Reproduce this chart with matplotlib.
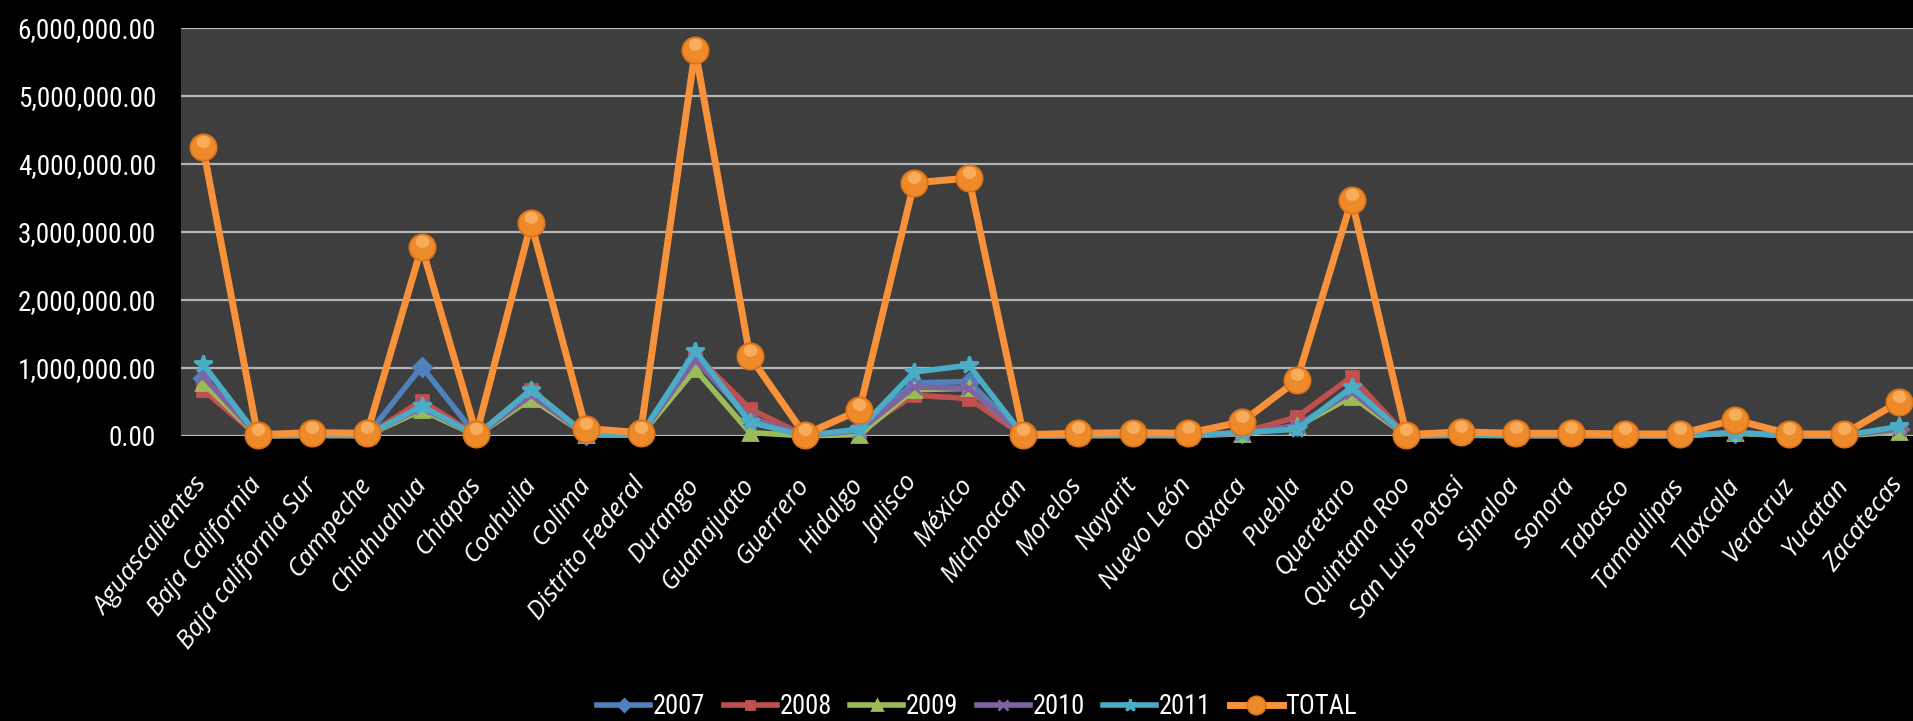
import matplotlib
matplotlib.use("Agg")
import numpy as np
import matplotlib.pyplot as plt
from matplotlib.ticker import FuncFormatter, MultipleLocator
from matplotlib import font_manager as fm
from matplotlib.font_manager import FontProperties
from matplotlib.textpath import TextPath
from matplotlib.path import Path

states = ["Aguascalientes", "Baja California", "Baja california Sur", "Campeche",
          "Chiahuahua", "Chiapas", "Coahuila", "Colima", "Distrito Federal", "Durango",
          "Guanajuato", "Guerrero", "Hidalgo", "Jalisco", "México", "Michoacan",
          "Morelos", "Nayarit", "Nuevo León", "Oaxaca", "Puebla", "Queretaro",
          "Quintana Roo", "San Luis Potosi", "Sinaloa", "Sonora", "Tabasco",
          "Tamaulipas", "Tlaxcala", "Veracruz", "Yucatan", "Zacatecas"]

y2007 = [850000, 4000, 10000, 8000, 1020000, 6000, 620000, 22000, 10000, 1120000,
         250000, 4000, 100000, 780000, 800000, 4000, 8000, 10000, 8000, 40000,
         150000, 650000, 4000, 12000, 8000, 8000, 6000, 6000, 50000, 6000, 6000, 100000]
y2008 = [680000, 4000, 10000, 8000, 520000, 6000, 680000, 22000, 10000, 1200000,
         400000, 4000, 80000, 600000, 550000, 4000, 8000, 10000, 8000, 50000,
         280000, 870000, 4000, 12000, 8000, 8000, 6000, 6000, 50000, 6000, 6000, 100000]
y2009 = [780000, 3000, 8000, 6000, 380000, 5000, 550000, 20000, 8000, 980000,
         50000, 3000, 20000, 680000, 700000, 3000, 6000, 8000, 6000, 30000,
         140000, 580000, 3000, 10000, 6000, 6000, 5000, 5000, 40000, 5000, 5000, 60000]
y2010 = [880000, 4000, 10000, 8000, 420000, 6000, 600000, 22000, 10000, 1120000,
         270000, 4000, 80000, 720000, 700000, 4000, 8000, 10000, 8000, 40000,
         150000, 650000, 4000, 12000, 8000, 8000, 6000, 6000, 50000, 6000, 6000, 100000]
y2011 = [1060000, 5000, 12000, 10000, 440000, 7000, 680000, 24000, 12000, 1250000,
         200000, 5000, 100000, 940000, 1040000, 5000, 10000, 12000, 10000, 50000,
         100000, 720000, 5000, 14000, 10000, 10000, 7000, 7000, 50000, 7000, 7000, 140000]
total = [4250000, 20000, 50000, 40000, 2780000, 30000, 3130000, 110000, 50000, 5670000,
         1170000, 20000, 380000, 3720000, 3790000, 20000, 40000, 50000, 40000, 210000,
         820000, 3470000, 20000, 60000, 40000, 40000, 30000, 30000, 240000, 30000, 30000, 500000]

series_names = ["2007", "2008", "2009", "2010", "2011", "TOTAL"]

# ---- font selection: prefer a narrow sans, else fall back ----
def pick_narrow():
    names = {f.name for f in fm.fontManager.ttflist}
    for n in ["Liberation Sans Narrow", "Arial Narrow", "Roboto Condensed",
              "Open Sans Condensed", "Noto Sans Condensed"]:
        if n in names:
            return FontProperties(family=n)
    for f in fm.fontManager.ttflist:
        if f.name in ("Noto Sans", "Open Sans", "Roboto") and \
                str(f.stretch) in ("condensed", "semi-condensed", "extra-condensed") and \
                f.style == "normal" and str(f.weight) in ("400", "normal", "regular"):
            return FontProperties(fname=f.fname)
    return FontProperties(family="Lato")

def size_for(fp, text, target_px):
    tp = TextPath((0, 0), text, size=10, prop=fp)
    w = tp.get_extents().width / 10.0  # em units
    return target_px / (w * 100 / 72.0)

narrow = pick_narrow()
ytick_size = size_for(narrow, "6,000,000.00", 136)
leg_size = size_for(narrow, "2007", 50)

W, H = 1913, 721
fig = plt.figure(figsize=(W / 100, H / 100), dpi=100, facecolor="black")
ax = fig.add_axes([181 / W, 1 - 436 / H, (1913 - 181) / W, (436 - 27.7) / H])
ax.set_facecolor("#3e3e3e")

x = list(range(len(states)))

styles = [
    (y2007, "#4F81BD", "D", 9, "2007"),
    (y2008, "#C0504D", "s", 8, "2008"),
    (y2009, "#9BBB59", "^", 10, "2009"),
    (y2010, "#8064A2", "x", 10, "2010"),
    (y2011, "#4BACC6", "*", 13, "2011"),
]
handles = []
for vals, col, mk, ms, name in styles:
    ln, = ax.plot(x, vals, color=col, lw=4, marker=mk, ms=ms, mfc=col, mec=col,
                  mew=2, clip_on=False, zorder=3, label=name, solid_joinstyle="round")
    handles.append(ln)

lt, = ax.plot(x, total, color="#F7923A", lw=5, marker="o", ms=19,
              mfc="#EE8A2A", mec="#D9731A", mew=1.2, clip_on=False, zorder=5,
              label="TOTAL", solid_joinstyle="round")
handles.append(lt)

# highlight (upper part of the orange spheres)
t = np.linspace(0, 2 * np.pi, 40)
hl = Path(np.column_stack([0.33 * np.cos(t), 0.28 + 0.3 * np.sin(t)]))
ax.plot(x, total, linestyle="none", marker=hl, ms=17, mfc="#FBB66A", mec="none",
        alpha=0.8, clip_on=False, zorder=6)

ax.set_xlim(-0.4, 31.26)
ax.set_ylim(0, 6000000)
ax.yaxis.set_major_locator(MultipleLocator(1000000))
ax.yaxis.set_major_formatter(FuncFormatter(lambda v, p: f"{v:,.2f}"))
ax.grid(axis="y", color="#b4b4b4", lw=1.6, zorder=1)
ax.set_axisbelow(True)
for s in ax.spines.values():
    s.set_visible(False)

ax.tick_params(axis="y", length=0, pad=18, labelcolor="white")
ax.tick_params(axis="x", length=0, pad=32, labelcolor="white")
for lab in ax.get_yticklabels():
    lab.set_fontproperties(narrow)
    lab.set_fontsize(ytick_size)

ax.set_xticks(x)
ax.set_xticklabels(states, rotation=52, ha="right", va="center",
                   rotation_mode="anchor", fontsize=18.5, style="italic",
                   family=["Open Sans", "DejaVu Sans"])

leg_fp = narrow.copy()
leg_fp.set_size(leg_size)
leg = fig.legend(handles=handles, labels=series_names, loc="center",
                 bbox_to_anchor=(977 / W, 1 - 707 / H), ncol=6, frameon=False,
                 prop=leg_fp, handlelength=2.0, handletextpad=0.1,
                 columnspacing=0.7, markerscale=0.7)
for tx in leg.get_texts():
    tx.set_color("white")

fig.savefig("out.png", dpi=100, facecolor="black")
